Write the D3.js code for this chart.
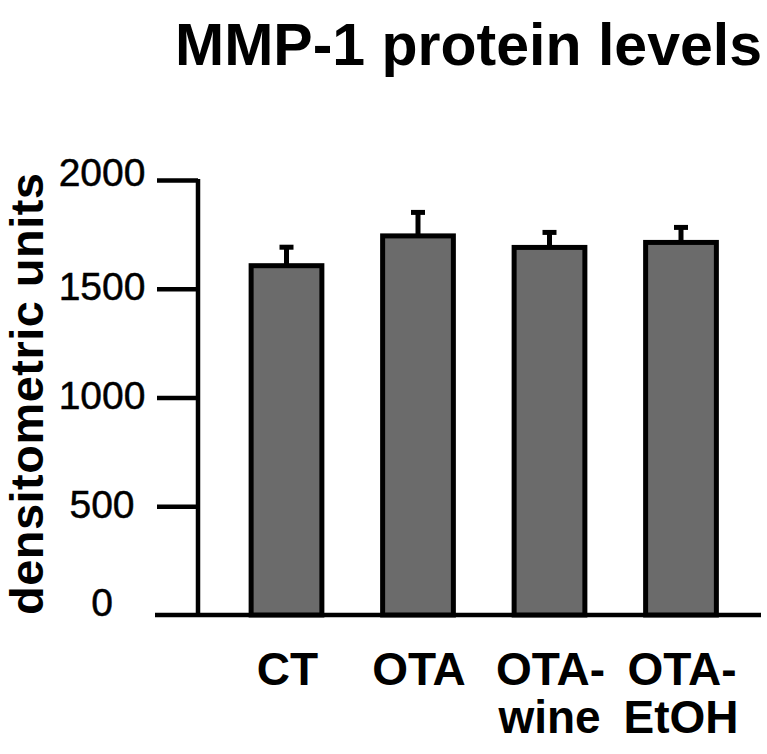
<!DOCTYPE html>
<html>
<head>
<meta charset="utf-8">
<script src="https://cdn.jsdelivr.net/npm/d3@7/dist/d3.min.js"></script>
<style>
  html, body { margin: 0; padding: 0; background: #fff; }
  svg { display: block; }
  text { font-family: "Liberation Sans", Arial, Helvetica, sans-serif; fill: #000; }
</style>
</head>
<body>
<svg id="chart" width="767" height="754"></svg>
<script>
const categories = ["CT", "OTA", "OTA-\nwine", "OTA-\nEtOH"];
const values = [1606, 1743, 1690, 1713];
const errors = [85, 108, 69, 69];
const yTicks = [0, 500, 1000, 1500, 2000];
const titleText = "MMP-1 protein levels";
const yLabel = "densitometric units";

const svg = d3.select("#chart");

const axisX = 198;
const y = d3.scaleLinear().domain([0, 2000]).range([615, 180]);
const x = d3.scaleBand().domain(categories).range([198, 769.5])
  .paddingInner(0.462).paddingOuter(0.404);

const data = categories.map((c, i) => ({ c, v: values[i], e: errors[i] }));

// Title
svg.append("text")
  .attr("x", 175).attr("y", 65)
  .attr("font-size", 59).attr("font-weight", "bold")
  .attr("textLength", 587).attr("lengthAdjust", "spacingAndGlyphs")
  .text(titleText);

// Y axis label
svg.append("text")
  .attr("transform", `translate(43, ${394}) rotate(-90)`)
  .attr("text-anchor", "middle")
  .attr("font-size", 47).attr("font-weight", "bold")
  .attr("textLength", 442).attr("lengthAdjust", "spacing")
  .text(yLabel);

// Y axis
const yAxis = d3.axisLeft(y).tickValues(yTicks).tickSize(41).tickSizeOuter(0).tickPadding(0)
  .tickFormat(d3.format("d"));
const gy = svg.append("g").attr("transform", `translate(${axisX},0)`).call(yAxis);
gy.select(".domain").attr("stroke", "#000").attr("stroke-width", 4.5)
  .attr("d", `M0,${y(2000) - 1}V${y(0)}`);
gy.selectAll(".tick line").attr("stroke", "#000").attr("stroke-width", 4.5);
gy.selectAll(".tick text")
  .attr("x", -96).attr("dy", null)
  .attr("y", d => d === 0 ? 0 : (d === 2000 ? 5 : 11))
  .attr("text-anchor", "middle")
  .attr("font-size", 39)
  .attr("font-family", "\"Liberation Sans\", Arial, sans-serif")
  .attr("fill", "#000")
  .attr("stroke", "#000").attr("stroke-width", 0.5);
gy.selectAll(".tick").filter(d => d === 0).select("line").remove();

// Baseline (x axis)
svg.append("line")
  .attr("x1", 155).attr("x2", 761)
  .attr("y1", y(0)).attr("y2", y(0))
  .attr("stroke", "#000").attr("stroke-width", 4.5);

// Bars
svg.append("g").selectAll("rect").data(data).join("rect")
  .attr("x", d => x(d.c))
  .attr("y", d => y(d.v))
  .attr("width", x.bandwidth())
  .attr("height", d => y(0) - y(d.v))
  .attr("fill", "#6b6b6b")
  .attr("stroke", "#000").attr("stroke-width", 5);

// Error bars
const eg = svg.append("g");
eg.selectAll("line.stem").data(data).join("line").attr("class", "stem")
  .attr("x1", d => x(d.c) + x.bandwidth() / 2).attr("x2", d => x(d.c) + x.bandwidth() / 2)
  .attr("y1", d => y(d.v)).attr("y2", d => y(d.v + d.e))
  .attr("stroke", "#000").attr("stroke-width", 5);
eg.selectAll("line.cap").data(data).join("line").attr("class", "cap")
  .attr("x1", d => x(d.c) + x.bandwidth() / 2 - 7).attr("x2", d => x(d.c) + x.bandwidth() / 2 + 7)
  .attr("y1", d => y(d.v + d.e)).attr("y2", d => y(d.v + d.e))
  .attr("stroke", "#000").attr("stroke-width", 5);

// X labels
const xl = svg.append("g");
data.forEach(d => {
  const lines = d.c.split("\n");
  const t = xl.append("text")
    .attr("text-anchor", "middle")
    .attr("font-size", 46).attr("font-weight", "bold");
  lines.forEach((ln, i) => {
    t.append("tspan")
      .attr("x", x(d.c) + x.bandwidth() / 2 + (i === 0 ? 1 : 0))
      .attr("y", 685 + i * 48)
      .text(ln);
  });
});
</script>
</body>
</html>
